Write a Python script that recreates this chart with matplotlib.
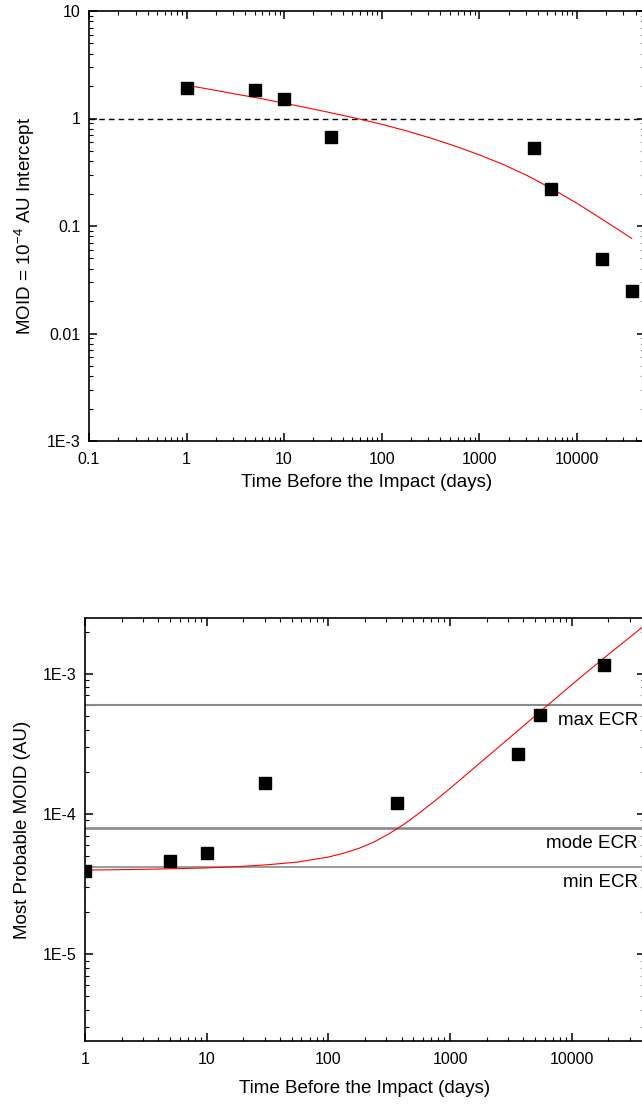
import numpy as np
import matplotlib
matplotlib.use("Agg")
import matplotlib.pyplot as plt
from matplotlib.ticker import FixedLocator, FixedFormatter, LogLocator, NullFormatter

plt.rcParams['font.family'] = ['Liberation Sans', 'DejaVu Sans']
plt.rcParams['mathtext.fontset'] = 'custom'
plt.rcParams['mathtext.rm'] = 'Liberation Sans'

# ---- top panel: MOID = 1e-4 AU intercept ----
top_days = [1, 5, 10, 30, 3650, 5475, 18250, 36500]
top_intercept = [1.94, 1.83, 1.51, 0.67, 0.53, 0.219, 0.0497, 0.025]
# fit curve
top_fit_days = [1, 1.78, 3.16, 5.62, 10, 17.8, 31.6, 56.2, 100, 178, 316, 562,
                1000, 1780, 3160, 5620, 10000, 17800, 31600, 36500]
top_fit_vals = [2.04, 1.86, 1.69, 1.54, 1.39, 1.25, 1.12, 1.00, 0.883, 0.769, 0.659, 0.555,
                0.459, 0.372, 0.292, 0.221, 0.163, 0.117, 0.0836, 0.0767]
top_xticks = [0.1, 1, 10, 100, 1000, 10000]
top_xlabels = ['0.1', '1', '10', '100', '1000', '10000']
top_yticks = [1e-3, 0.01, 0.1, 1, 10]
top_ylabels = ['1E-3', '0.01', '0.1', '1', '10']

# ---- bottom panel: most probable MOID ----
bot_days = [1, 5, 10, 30, 365, 3650, 5475, 18250]
bot_moid = [3.9e-5, 4.6e-5, 5.3e-5, 1.66e-4, 1.19e-4, 2.67e-4, 5.07e-4, 1.15e-3]
bot_fit_days = [1, 1.78, 3.16, 5.62, 10, 17.8, 31.6, 56.2, 100, 133, 178, 237, 316, 422,
                562, 750, 1000, 1780, 3160, 5620, 10000, 17800, 31600, 40000]
bot_fit_vals = [3.98e-5, 4.00e-5, 4.03e-5, 4.07e-5, 4.12e-5, 4.21e-5, 4.34e-5, 4.54e-5,
                4.93e-5, 5.24e-5, 5.68e-5, 6.31e-5, 7.23e-5, 8.49e-5, 1.019e-4, 1.239e-4,
                1.521e-4, 2.33e-4, 3.56e-4, 5.46e-4, 8.36e-4, 1.265e-3, 1.89e-3, 2.23e-3]
ecr_names = ['max ECR', 'mode ECR', 'min ECR']
ecr_values = [6.0e-4, 7.9e-5, 4.2e-5]
ecr_widths = [1.5, 1.9, 1.2]
bot_xticks = [1, 10, 100, 1000, 10000]
bot_xlabels = ['1', '10', '100', '1000', '10000']
bot_yticks = [1e-5, 1e-4, 1e-3]
bot_ylabels = ['1E-5', '1E-4', '1E-3']

W, H = 642, 1106
fig = plt.figure(figsize=(W / 100, H / 100), dpi=100)
ax1 = fig.add_axes([89 / W, 1 - 441 / H, (645 - 89) / W, 430 / H])
ax2 = fig.add_axes([85 / W, 1 - 1041 / H, (645 - 85) / W, 423 / H])


def style_axis(ax, xticks, xlabels, yticks, ylabels):
    ax.set_xscale('log')
    ax.set_yscale('log')
    ax.xaxis.set_major_locator(FixedLocator(xticks))
    ax.xaxis.set_major_formatter(FixedFormatter(xlabels))
    ax.yaxis.set_major_locator(FixedLocator(yticks))
    ax.yaxis.set_major_formatter(FixedFormatter(ylabels))
    ax.xaxis.set_minor_locator(LogLocator(base=10, subs=np.arange(2, 10), numticks=20))
    ax.yaxis.set_minor_locator(LogLocator(base=10, subs=np.arange(2, 10), numticks=20))
    ax.xaxis.set_minor_formatter(NullFormatter())
    ax.yaxis.set_minor_formatter(NullFormatter())
    ax.tick_params(which='both', direction='in', top=True, right=True, labelsize=11.5)
    ax.tick_params(axis='x', pad=8)
    ax.tick_params(axis='y', pad=6)
    ax.tick_params(which='major', length=6, width=1.1)
    ax.tick_params(which='minor', length=3, width=0.8)
    for s in ax.spines.values():
        s.set_linewidth(1.2)


style_axis(ax1, top_xticks, top_xlabels, top_yticks, top_ylabels)
ax1.set_xlim(0.1, 5e4)
ax1.set_ylim(1e-3, 10)
ax1.axhline(1, color='black', linestyle=(0, (4, 3)), linewidth=1.0)
ax1.plot(top_fit_days, top_fit_vals, color='red', linewidth=0.8)
ax1.plot(top_days, top_intercept, 's', color='black', markersize=8)
ax1.set_xlabel('Time Before the Impact (days)', fontsize=13.5, labelpad=5)
ax1.set_ylabel('MOID = 10$^{\\mathrm{-4}}$ AU Intercept', fontsize=13.5)
ax1.yaxis.set_label_coords(-0.093, 0.5)

style_axis(ax2, bot_xticks, bot_xlabels, bot_yticks, bot_ylabels)
ax2.set_xlim(1, 4e4)
ax2.set_ylim(2.4e-6, 2.5e-3)
for name, val, lw in zip(ecr_names, ecr_values, ecr_widths):
    ax2.axhline(val, color='#8a8a8a', linewidth=lw)
    ax2.annotate(name, xy=(0.9875, val), xycoords=ax2.get_yaxis_transform(),
                 xytext=(0, -11), textcoords='offset points',
                 ha='right', va='center', fontsize=13.5)
ax2.plot(bot_fit_days, bot_fit_vals, color='red', linewidth=0.8)
ax2.plot(bot_days, bot_moid, 's', color='black', markersize=8)
ax2.set_xlabel('Time Before the Impact (days)', fontsize=13.5, labelpad=9)
ax2.set_ylabel('Most Probable MOID (AU)', fontsize=13.5)
ax2.yaxis.set_label_coords(-0.096, 0.5)

fig.savefig('out.png', dpi=100)
